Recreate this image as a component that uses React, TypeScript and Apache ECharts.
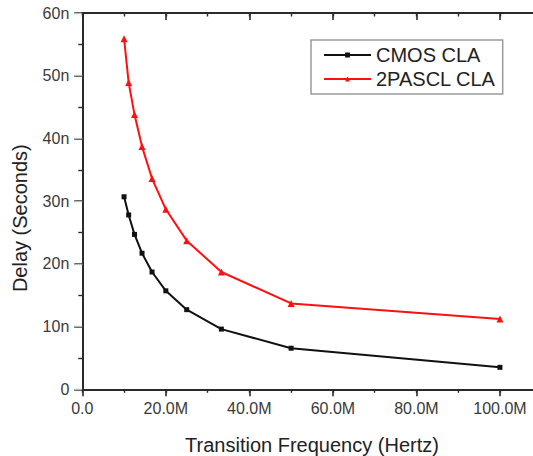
import React, { useEffect, useRef } from "react";
import * as echarts from "echarts";

// Transition frequency in MHz
const freqMHz = [10, 11.1, 12.5, 14.3, 16.7, 20, 25, 33.3, 50, 100];
// Delay in ns
const cmosDelay = [30.7, 27.8, 24.7, 21.7, 18.7, 15.7, 12.7, 9.6, 6.55, 3.5];
const pasclDelay = [55.9, 48.9, 43.8, 38.7, 33.6, 28.7, 23.7, 18.7, 13.7, 11.2];

const seriesNames = ["CMOS CLA", "2PASCL CLA"];
const xTickValues = [0, 20, 40, 60, 80, 100];
const yTickValues = [0, 10, 20, 30, 40, 50, 60];

const AXIS_COLOR = "#2a2a2a";
const LABEL_COLOR = "#3a3a3a";
const FONT = "Liberation Sans, Arial, sans-serif";

export default function App() {
  const ref = useRef<HTMLDivElement>(null);

  useEffect(() => {
    if (!ref.current) return;
    const chart = echarts.init(ref.current, undefined, { renderer: "svg" });

    const xFmt = (v: number) => {
      if (!xTickValues.includes(v)) return "";
      return v === 0 ? "0.0" : v.toFixed(1) + "M";
    };
    const yFmt = (v: number) => {
      if (!yTickValues.includes(v)) return "";
      return v === 0 ? "0" : v + "n";
    };

    const baseX = {
      type: "value",
      min: 0,
      max: 110,
      splitLine: { show: false },
    };

    chart.setOption({
      animation: false,
      backgroundColor: "#ffffff",
      textStyle: { fontFamily: FONT },
      grid: {
        left: 82.3,
        top: 13,
        right: -8.7,
        bottom: 66.7,
        containLabel: false,
        outerBoundsMode: "none",
      },
      legend: {
        left: 311,
        top: 40,
        orient: "vertical",
        data: seriesNames,
        itemWidth: 47,
        itemHeight: 6,
        itemGap: 4,
        padding: [5, 7, 5, 12],
        borderColor: "#9a9a9a",
        borderWidth: 1.5,
        backgroundColor: "#ffffff",
        textStyle: { fontSize: 20, color: "#222", fontFamily: FONT, padding: [0, 0, 0, 0] },
      },
      xAxis: [
        {
          ...baseX,
          position: "bottom",
          interval: 20,
          name: "Transition Frequency (Hertz)",
          nameLocation: "middle",
          nameGap: 46,
          nameTextStyle: { fontSize: 20, color: "#222", fontFamily: FONT },
          axisLine: { show: true, lineStyle: { color: AXIS_COLOR, width: 1.8 } },
          axisTick: { show: true, inside: false, length: 7, lineStyle: { color: AXIS_COLOR, width: 1.6 } },
          axisLabel: { show: true, margin: 11, fontSize: 16, color: LABEL_COLOR, formatter: xFmt, showMaxLabel: false },
        },
        {
          ...baseX,
          position: "bottom",
          interval: 10,
          axisLine: { show: false },
          axisTick: { show: true, inside: false, length: 3.5, lineStyle: { color: AXIS_COLOR, width: 1.4 } },
          axisLabel: { show: false },
        },
        {
          ...baseX,
          position: "top",
          interval: 20,
          axisLine: { show: true, lineStyle: { color: AXIS_COLOR, width: 1.8 } },
          axisTick: { show: true, inside: true, length: 7, lineStyle: { color: AXIS_COLOR, width: 1.6 } },
          axisLabel: { show: false },
        },
        {
          ...baseX,
          position: "top",
          interval: 10,
          axisLine: { show: false },
          axisTick: { show: true, inside: true, length: 3.5, lineStyle: { color: AXIS_COLOR, width: 1.4 } },
          axisLabel: { show: false },
        },
      ],
      yAxis: [
        {
          type: "value",
          position: "left",
          min: 0,
          max: 60,
          interval: 10,
          splitLine: { show: false },
          name: "Delay (Seconds)",
          nameLocation: "middle",
          nameGap: 52,
          nameRotate: 90,
          nameTextStyle: { fontSize: 20, color: "#222", fontFamily: FONT, padding: [0, 34, 0, 0] },
          axisLine: { show: true, lineStyle: { color: AXIS_COLOR, width: 1.8 } },
          axisTick: { show: true, inside: false, length: 8, lineStyle: { color: AXIS_COLOR, width: 1.6 } },
          minorTick: { show: true, splitNumber: 2, length: 4, lineStyle: { color: AXIS_COLOR, width: 1.4 } },
          axisLabel: { show: true, margin: 13, fontSize: 16, color: LABEL_COLOR, formatter: yFmt },
        },
        {
          type: "value",
          position: "right",
          min: 0,
          max: 60,
          interval: 10,
          splitLine: { show: false },
          axisLine: { show: true, lineStyle: { color: AXIS_COLOR, width: 1.8 } },
          axisTick: { show: true, inside: true, length: 8, lineStyle: { color: "#bbbbbb", width: 1.4 } },
          axisLabel: { show: false },
        },
      ],
      series: [
        {
          name: seriesNames[0],
          type: "line",
          xAxisIndex: 0,
          yAxisIndex: 0,
          data: freqMHz.map((f, i) => [f, cmosDelay[i]]),
          symbol: "rect",
          symbolSize: 5,
          lineStyle: { color: "#111111", width: 2 },
          itemStyle: { color: "#111111" },
        },
        {
          name: seriesNames[1],
          type: "line",
          xAxisIndex: 0,
          yAxisIndex: 0,
          data: freqMHz.map((f, i) => [f, pasclDelay[i]]),
          symbol: "triangle",
          symbolSize: 7,
          lineStyle: { color: "#ff1010", width: 2 },
          itemStyle: { color: "#ff1010" },
        },
      ],
    });

    return () => chart.dispose();
  }, []);

  return (
    <div
      ref={ref}
      style={{ position: "fixed", left: 0, top: 0, width: 533, height: 456, background: "#fff" }}
    />
  );
}
